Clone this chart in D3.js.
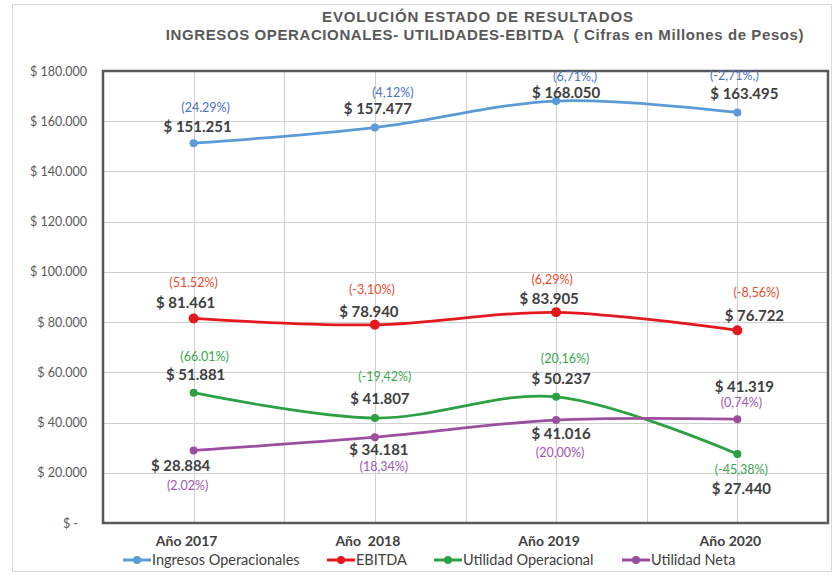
<!DOCTYPE html>
<html>
<head>
  <meta charset="utf-8">
  <style>
    body { margin: 0; background: #fff; }
    svg { display: block; }
  </style>
</head>
<body>
  <svg width="835" height="576"></svg>
  <script src="https://cdn.jsdelivr.net/npm/d3@7"></script>
  <script>
    // data
    const years = ["Año 2017", "Año  2018", "Año 2019", "Año 2020"];
    const ingresos = [151251, 157477, 168050, 163495];
    const ebitda = [81461, 78940, 83905, 76722];
    const utilOper = [51881, 41807, 50237, 27440];
    const utilNeta = [28884, 34181, 41016, 41319];
    const pctIngresos = ["(24.29%)", "(4,12%)", "(6,71%,)", "(-2,71%,)"];
    const pctEbitda = ["(51.52%)", "(-3,10%)", "(6,29%)", "(-8,56%)"];
    const pctOper = ["(66.01%)", "(-19,42%)", "(20,16%)", "(-45,38%)"];
    const pctNeta = ["(2.02%)", "(18,34%)", "(20,00%)", "(0,74%)"];
    const yTicks = [0, 20000, 40000, 60000, 80000, 100000, 120000, 140000, 160000, 180000];
    const seriesNames = ["Ingresos Operacionales", "EBITDA", "Utilidad Operacional", "Utilidad Neta"];

    const width = 835;
    const height = 576;
    const margin = { top: 71, right: 7, bottom: 53, left: 103 };
    const bodyFont = "Lato, Open Sans, sans-serif";

    const svg = d3.select("svg")
      .attr("viewBox", [0, 0, width, height]);

    const loc = d3.formatLocale({ decimal: ",", thousands: ".", grouping: [3], currency: ["$ ", ""] });
    const money = loc.format("$,.0f");

    const x = d3.scaleBand()
      .domain(years)
      .range([margin.left, width - margin.right]);

    const y = d3.scaleLinear()
      .domain([0, 180000])
      .range([height - margin.bottom, margin.top]);

    const cx = d => x(d) + x.bandwidth() / 2;

    // outer chart frame
    svg.append("rect")
      .attr("x", 12.5).attr("y", 4.5)
      .attr("width", width - 16).attr("height", height - 9)
      .attr("fill", "none")
      .attr("stroke", "#d9d9d9");

    // title
    const title = svg.append("g")
      .attr("font-family", "Liberation Sans, Arial, sans-serif")
      .attr("font-weight", "bold")
      .attr("font-size", "15px")
      .attr("fill", "#595959")
      .attr("text-anchor", "middle");
    title.append("text").attr("x", 478).attr("y", 22).attr("letter-spacing", "0.9px")
      .text("EVOLUCIÓN ESTADO DE RESULTADOS");
    title.append("text").attr("x", 485).attr("y", 40).attr("letter-spacing", "0.6px")
      .attr("xml:space", "preserve")
      .text("INGRESOS OPERACIONALES- UTILIDADES-EBITDA  ( Cifras en Millones de Pesos)");

    // grid
    const grid = svg.append("g").attr("stroke", "#d0d0d0").attr("stroke-width", 1);
    grid.selectAll("line.h")
      .data(yTicks)
      .join("line")
      .attr("class", "h")
      .attr("x1", margin.left).attr("x2", width - margin.right)
      .attr("y1", d => Math.round(y(d)) + 0.5).attr("y2", d => Math.round(y(d)) + 0.5);

    const vLines = [];
    years.forEach(d => { vLines.push(x(d) + x.bandwidth() / 2); vLines.push(x(d) + x.bandwidth()); });
    grid.selectAll("line.v")
      .data(vLines)
      .join("line")
      .attr("class", "v")
      .attr("x1", d => Math.round(d) + 0.5).attr("x2", d => Math.round(d) + 0.5)
      .attr("y1", margin.top).attr("y2", height - margin.bottom);

    // y axis
    const yAxis = svg.append("g")
      .attr("transform", `translate(${margin.left},0)`)
      .call(d3.axisLeft(y).tickValues(yTicks).tickSize(0).tickPadding(16)
        .tickFormat(d => d === 0 ? "$ -" : money(d)));
    yAxis.select(".domain").remove();
    yAxis.selectAll("text")
      .attr("font-family", bodyFont)
      .attr("font-size", "12.5px")
      .attr("fill", "#595959")
      .attr("dx", d => d === 0 ? -9 : 0);

    // x axis labels
    svg.append("g")
      .selectAll("text")
      .data(years)
      .join("text")
      .attr("x", d => cx(d) - 7)
      .attr("y", height - 30)
      .attr("text-anchor", "middle")
      .attr("xml:space", "preserve")
      .attr("font-family", bodyFont)
      .attr("font-weight", "bold")
      .attr("font-size", "14px")
      .attr("fill", "#404040")
      .text(d => d);

    // plot frame
    svg.append("rect")
      .attr("x", margin.left).attr("y", margin.top)
      .attr("width", width - margin.left - margin.right)
      .attr("height", height - margin.top - margin.bottom)
      .attr("fill", "none")
      .attr("stroke", "#595959")
      .attr("stroke-width", 2.5);

    const series = [
      { name: seriesNames[0], values: ingresos, pct: pctIngresos, color: "#5b9bd5", pctColor: "#4a72c4",
        valOff: [[4, -11], [3, -14], [10, -3], [7, -13]], pctOff: [[12, -31], [18, -31], [19, -20], [-3, -32]] },
      { name: seriesNames[1], values: ebitda, pct: pctEbitda, color: "#e4191e", pctColor: "#ee4a2c",
        valOff: [[-8, -10], [-6, -8], [-7, -8], [17, -9]], pctOff: [[0, -31], [-3, -31], [-4, -28], [19, -33]] },
      { name: seriesNames[2], values: utilOper, pct: pctOper, color: "#2ca043", pctColor: "#3aa84e",
        valOff: [[2, -13], [5, -14], [5, -13], [4, 40]], pctOff: [[11, -32], [10, -37], [9, -34], [4, 20]] },
      { name: seriesNames[3], values: utilNeta, pct: pctNeta, color: "#9b4f9e", pctColor: "#a056b0",
        valOff: [[-13, 21], [4, 18], [5, 19], [7, -27]], pctOff: [[-6, 40], [9, 34], [4, 37], [4, -12]] }
    ];

    const line = d3.line()
      .x((d, i) => cx(years[i]))
      .y(d => y(d))
      .curve(d3.curveCatmullRom.alpha(0.5));

    series.forEach(s => {
      const g = svg.append("g");
      g.append("path")
        .datum(s.values)
        .attr("fill", "none")
        .attr("stroke", s.color)
        .attr("stroke-width", 2.75)
        .attr("d", line);
      g.selectAll("circle")
        .data(s.values)
        .join("circle")
        .attr("cx", (d, i) => cx(years[i]))
        .attr("cy", d => y(d))
        .attr("r", s.name === "EBITDA" ? 5 : 4)
        .attr("fill", s.color);
    });

    // data labels
    series.forEach(s => {
      const g = svg.append("g").attr("text-anchor", "middle")
        .attr("font-family", bodyFont);
      g.selectAll("text.val")
        .data(s.values)
        .join("text")
        .attr("class", "val")
        .attr("x", (d, i) => cx(years[i]) + s.valOff[i][0])
        .attr("y", (d, i) => y(d) + s.valOff[i][1])
        .attr("font-size", "15px")
        .attr("font-weight", "bold")
        .attr("fill", "#404040")
        .text(d => money(d));
      g.selectAll("text.pct")
        .data(s.pct)
        .join("text")
        .attr("class", "pct")
        .attr("x", (d, i) => cx(years[i]) + s.pctOff[i][0])
        .attr("y", (d, i) => y(s.values[i]) + s.pctOff[i][1])
        .attr("font-size", "12.5px")
        .attr("fill", s.pctColor)
        .text(d => d);
    });

    // legend
    const legendX = [123, 327, 434, 622];
    const legend = svg.append("g")
      .attr("font-family", bodyFont)
      .attr("font-size", "14.5px")
      .attr("fill", "#404040");
    const item = legend.selectAll("g")
      .data(series)
      .join("g")
      .attr("transform", (d, i) => `translate(${legendX[i]},${height - 16})`);
    item.append("line")
      .attr("x1", 0).attr("x2", 28)
      .attr("stroke", d => d.color)
      .attr("stroke-width", 3);
    item.append("circle")
      .attr("cx", 14).attr("r", 4)
      .attr("fill", d => d.color);
    item.append("text")
      .attr("x", 29)
      .attr("y", 5)
      .text(d => d.name);
  </script>
</body>
</html>
